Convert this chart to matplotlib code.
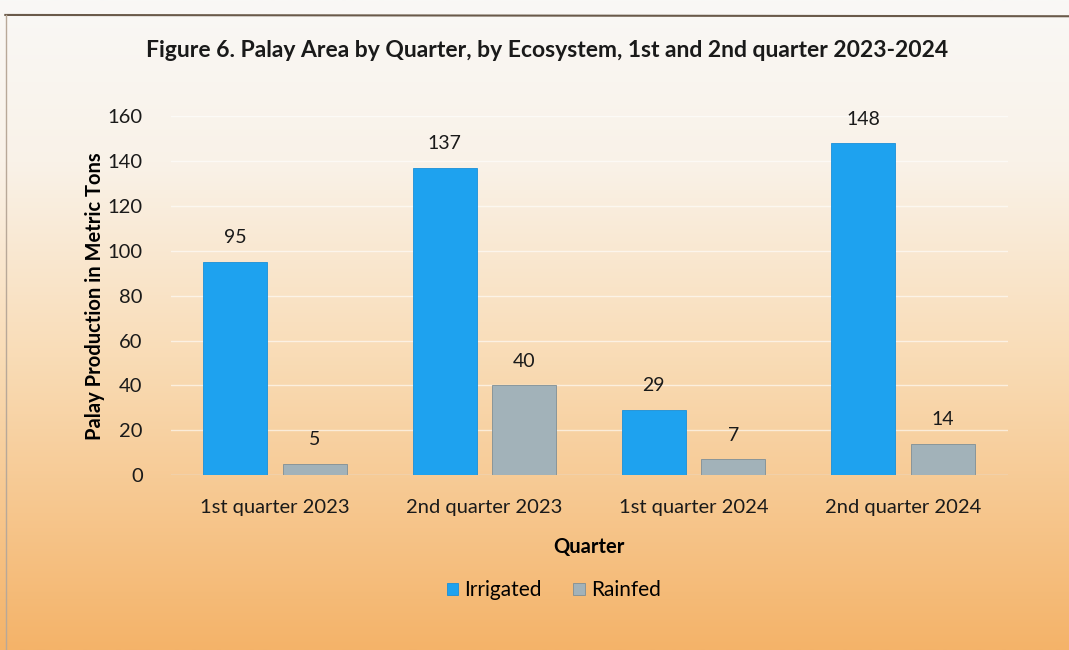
import matplotlib
matplotlib.use("Agg")
import matplotlib.pyplot as plt
import numpy as np
from matplotlib.colors import LinearSegmentedColormap

categories = ["1st quarter 2023", "2nd quarter 2023", "1st quarter 2024", "2nd quarter 2024"]
irrigated = [95, 137, 29, 148]
rainfed = [5, 40, 7, 14]
series_names = ["Irrigated", "Rainfed"]
yticks = [0, 20, 40, 60, 80, 100, 120, 140, 160]

plt.rcParams['font.family'] = ['Lato', 'DejaVu Sans']

fig = plt.figure(figsize=(10.69, 6.5), dpi=100)

# background gradient
bg = fig.add_axes([0, 0, 1, 1], zorder=0)
bg.axis('off')
cmap = LinearSegmentedColormap.from_list('bg', [(0.0, '#f9f8f6'), (0.25, '#faf2e8'), (0.55, '#f9dcb6'), (1.0, '#f4b369')])
grad = np.linspace(0, 1, 256).reshape(-1, 1)
bg.imshow(grad, aspect='auto', cmap=cmap, extent=[0, 1, 0, 1], origin='upper')
bg.set_xlim(0, 1); bg.set_ylim(0, 1)
# photo border lines
bg.plot([0.005, 1.0], [0.977, 0.975], color='#6a5a4a', lw=1.5)
bg.plot([0.006, 0.006], [0.977, 0.0], color='#b8a898', lw=1.0)

ax = fig.add_axes([0.1595, 0.269, 0.783, 0.552], zorder=1)
ax.patch.set_alpha(0)
x = np.arange(len(categories))
w = 0.306
off = 0.19
b1 = ax.bar(x - off, irrigated, w, color='#1ea2ef', edgecolor='#1a8fd8', linewidth=0.6, zorder=3, label=series_names[0])
b2 = ax.bar(x + off, rainfed, w, color='#a2b2b9', edgecolor='#7f8f96', linewidth=0.6, zorder=3, label=series_names[1])
for bars in (b1, b2):
    for r in bars:
        ax.text(r.get_x() + r.get_width() / 2, r.get_height() + 7, f"{int(r.get_height())}",
                ha='center', va='bottom', fontsize=14, color='#1a1a1a')

ax.set_xlim(-0.5, 3.5)
ax.set_ylim(0, 160)
ax.set_yticks(yticks)
ax.set_yticklabels([str(t) for t in yticks], fontsize=14.5, color='#1a1a1a')
ax.set_xticks(x)
ax.set_xticklabels(categories, fontsize=14.5, color='#1a1a1a')
ax.tick_params(length=0, pad=20)
ax.tick_params(axis='x', pad=17)
for s in ax.spines.values():
    s.set_visible(False)
ax.grid(axis='y', color='#ffffff', alpha=0.6, lw=1, zorder=0)
ax.axhline(0, color='#d9cfc4', lw=1, zorder=2)

ax.set_ylabel("Palay Production in Metric Tons", fontsize=14.5, fontweight='bold', labelpad=2)
ax.set_xlabel("Quarter", fontsize=14.5, fontweight='bold', labelpad=15)

fig.text(0.512, 0.922, "Figure 6. Palay Area by Quarter, by Ecosystem, 1st and 2nd quarter 2023-2024",
         ha='center', va='center', fontsize=16.5, fontweight='bold', color='#1a1a1a')

leg = fig.legend(handles=[b1, b2], labels=series_names, loc='center', bbox_to_anchor=(0.518, 0.092),
                 ncol=2, frameon=False, fontsize=15, handlelength=0.55, handleheight=0.55,
                 handletextpad=0.3, columnspacing=1.5)

fig.savefig("out.png", dpi=100)
